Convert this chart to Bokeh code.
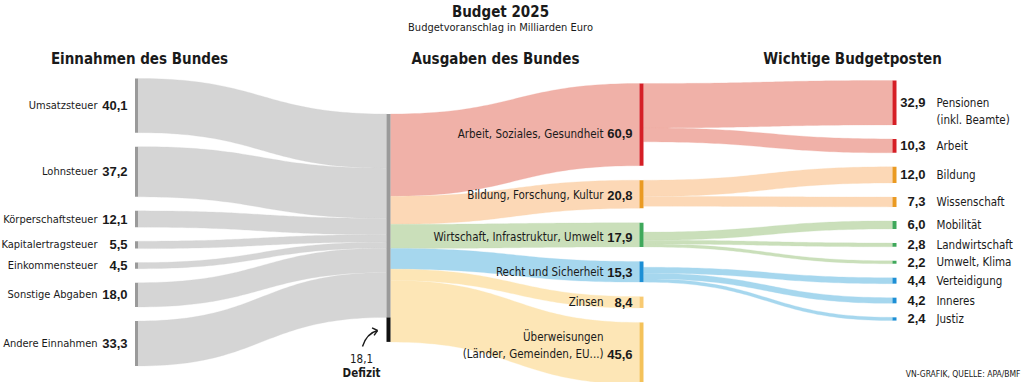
import numpy as np
from bokeh.plotting import figure
from bokeh.models import Range1d, ColumnDataSource
from bokeh.embed import file_html
from bokeh.resources import INLINE
from bokeh.core.properties import value

# ---------------- data (Mrd. Euro) ----------------
title = "Budget 2025"
subtitle = "Budgetvoranschlag in Milliarden Euro"
col_heads = ["Einnahmen des Bundes", "Ausgaben des Bundes", "Wichtige Budgetposten"]

income_labels = ["Umsatzsteuer", "Lohnsteuer", "Körperschaftsteuer", "Kapitalertragsteuer",
                 "Einkommensteuer", "Sonstige Abgaben", "Andere Einnahmen"]
income_values = [40.1, 37.2, 12.1, 5.5, 4.5, 18.0, 33.3]

deficit_label = "Defizit"
deficit_value = 18.1

spend_labels = ["Arbeit, Soziales, Gesundheit", "Bildung, Forschung, Kultur",
                "Wirtschaft, Infrastruktur, Umwelt", "Recht und Sicherheit", "Zinsen",
                "Überweisungen\n(Länder, Gemeinden, EU...)"]
spend_values = [60.9, 20.8, 17.9, 15.3, 8.4, 45.6]

item_labels = ["Pensionen\n(inkl. Beamte)", "Arbeit", "Bildung", "Wissenschaft", "Mobilität",
               "Landwirtschaft", "Umwelt, Klima", "Verteidigung", "Inneres", "Justiz"]
item_values = [32.9, 10.3, 12.0, 7.3, 6.0, 2.8, 2.2, 4.4, 4.2, 2.4]
item_parent = [0, 0, 1, 1, 2, 2, 2, 3, 3, 3]

source_note = "VN-GRAFIK, QUELLE: APA/BMF"

# ---------------- style ----------------
FONT = "DejaVu Sans Condensed"
NUMFONT = "Liberation Sans"
TXT = "#1a1a1a"
GREY_FLOW = "#d5d5d5"
GREY_BAR = "#9a9a9a"
DEF_BAR = "#111111"
bar_colors = ["#d51f26", "#ea9a22", "#3fa85b", "#1d8fd5", "#f8ca72", "#f4c25a"]
flow_colors = ["#f0b1a8", "#fcd8b6", "#cadfba", "#a6d7ee", "#fde6b6", "#fde6b6"]

K = 1.35           # px per Mrd.
X_IN = (134.5, 137.5)
X_MID = (386.0, 390.0)
X_SP = (639.0, 643.0)
X_IT = (892.0, 896.0)
LBL_L = 11         # left label font size (px)
LBL = 11.5         # other label font size (px)


def fmt(v):
    return f"{v:.1f}".replace(".", ",")


def stack(vals, top, gap):
    tops, y = [], top
    for v in vals:
        tops.append(y)
        y += v * K + gap
    return tops


def band(x0, x1, t0, b0, t1, b1, n=60):
    s = np.linspace(0, 1, n)
    xm = (x0 + x1) / 2
    bx = (1 - s) ** 3 * x0 + 3 * (1 - s) ** 2 * s * xm + 3 * (1 - s) * s ** 2 * xm + s ** 3 * x1
    def cy(a, b):
        return (1 - s) ** 3 * a + 3 * (1 - s) ** 2 * s * a + 3 * (1 - s) * s ** 2 * b + s ** 3 * b
    return list(np.concatenate([bx, bx[::-1]])), list(np.concatenate([cy(t0, t1), cy(b0, b1)[::-1]]))


inc_top = stack(income_values, 78, 14)
sp_top = stack(spend_values, 83, 14.5)
it_top = stack(item_values, 80, 14)
mid_top = 113.5
mid_income_h = sum(income_values) * K
mid_total_h = mid_income_h + deficit_value * K

p = figure(width=1024, height=382, x_range=Range1d(0, 1024), y_range=Range1d(382, 0),
           output_backend="svg", toolbar_location=None, min_border=0,
           x_axis_location=None, y_axis_location=None)
p.grid.visible = False
p.outline_line_color = None
p.background_fill_color = "white"
p.border_fill_color = "white"

# ---------------- flows ----------------
fx, fy, fc = [], [], []
cum = mid_top
for v, t in zip(income_values, inc_top):
    h = v * K
    xs, ys = band(X_IN[1], X_MID[0], t, t + h, cum, cum + h)
    fx.append(xs); fy.append(ys); fc.append(GREY_FLOW)
    cum += h

cum = mid_top
for j, (v, t) in enumerate(zip(spend_values, sp_top)):
    h = v * K
    xs, ys = band(X_MID[1], X_SP[0], cum, cum + h, t, t + h)
    fx.append(xs); fy.append(ys); fc.append(flow_colors[j])
    cum += h

align = ["top", "top", "bottom", "bottom"]
start = {}
for j in range(4):
    tot = sum(v for v, pj in zip(item_values, item_parent) if pj == j) * K
    if align[j] == "top":
        start[j] = sp_top[j]
    else:
        start[j] = sp_top[j] + spend_values[j] * K - tot
for i, (v, t) in enumerate(zip(item_values, it_top)):
    j = item_parent[i]
    h = v * K
    xs, ys = band(X_SP[1], X_IT[0], start[j], start[j] + h, t, t + h)
    fx.append(xs); fy.append(ys); fc.append(flow_colors[j])
    start[j] += h

p.patches(xs=fx, ys=fy, fill_color=fc, line_color=fc, line_width=0.3)

# ---------------- node bars ----------------
bl, br, bt, bb, bcol = [], [], [], [], []
for v, t in zip(income_values, inc_top):
    bl.append(X_IN[0]); br.append(X_IN[1]); bt.append(t); bb.append(t + v * K); bcol.append(GREY_BAR)
bl.append(X_MID[0]); br.append(X_MID[1]); bt.append(mid_top); bb.append(mid_top + mid_income_h); bcol.append(GREY_BAR)
bl.append(X_MID[0]); br.append(X_MID[1]); bt.append(mid_top + mid_income_h); bb.append(mid_top + mid_total_h); bcol.append(DEF_BAR)
for j, (v, t) in enumerate(zip(spend_values, sp_top)):
    bl.append(X_SP[0]); br.append(X_SP[1]); bt.append(t); bb.append(t + v * K); bcol.append(bar_colors[j])
for i, (v, t) in enumerate(zip(item_values, it_top)):
    bl.append(X_IT[0]); br.append(X_IT[1]); bt.append(t); bb.append(t + v * K); bcol.append(bar_colors[item_parent[i]])
p.quad(left=bl, right=br, top=bt, bottom=bb, fill_color=bcol, line_color=None)


# ---------------- texts ----------------
def texts(xs, ys, ss, size, bold=False, align="left", font=FONT, color=TXT):
    src = ColumnDataSource(dict(x=xs, y=ys, t=ss))
    p.text(x="x", y="y", text="t", source=src, text_font=value(font),
           text_font_size=value(f"{size}px"), text_font_style="bold" if bold else "normal",
           text_align=align, text_baseline="middle", text_color=color)


# title block
texts([500], [11], [title], 15, bold=True, align="center")
texts([500], [27], [subtitle], 11, align="center")
texts([139, 495, 852], [58, 58, 58], col_heads, 15, bold=True, align="center")

# income labels
inc_c = [t + v * K / 2 for v, t in zip(income_values, inc_top)]
texts([97] * len(income_labels), inc_c, income_labels, LBL_L, align="right")
texts([127] * len(income_values), inc_c, [fmt(v) for v in income_values], 13, bold=True,
      align="right", font=NUMFONT)

# spending labels
dy_sp = [9, 1, 2.5, 0.5, 0, 1]
nx, ny, ns, vy = [], [], [], []
for j, (lab, v, t) in enumerate(zip(spend_labels, spend_values, sp_top)):
    yc = t + v * K / 2 + dy_sp[j]
    vy.append(yc)
    lines = lab.split("\n")
    for k, ln in enumerate(lines):
        nx.append(603); ny.append(yc - 17 * (len(lines) - 1 - k)); ns.append(ln)
texts(nx, ny, ns, LBL, align="right")
texts([632] * len(spend_values), vy, [fmt(v) for v in spend_values], 13, bold=True,
      align="right", font=NUMFONT)

# item labels
nx, ny, ns, vy = [], [], [], []
for i, (lab, v, t) in enumerate(zip(item_labels, item_values, it_top)):
    yc = t + v * K / 2
    vy.append(yc)
    for k, ln in enumerate(lab.split("\n")):
        nx.append(936); ny.append(yc + 17 * k); ns.append(ln)
texts(nx, ny, ns, LBL, align="left")
texts([925] * len(item_values), vy, [fmt(v) for v in item_values], 13, bold=True,
      align="right", font=NUMFONT)

# deficit annotation
texts([361], [358], [fmt(deficit_value)], LBL, align="center")
texts([361], [372], [deficit_label], LBL, bold=True, align="center")
ax0, ay0, acx, acy, ax1, ay1 = 362, 346, 366, 333, 377, 330
p.quadratic(x0=[ax0], y0=[ay0], x1=[ax1], y1=[ay1], cx=[acx], cy=[acy], line_color=TXT, line_width=1.4)
d = np.array([ax1 - acx, ay1 - acy], dtype=float)
d /= np.linalg.norm(d)
hx, hy = [], []
for ang in (np.radians(40), -np.radians(40)):
    r = np.array([[np.cos(ang), -np.sin(ang)], [np.sin(ang), np.cos(ang)]]) @ (-d)
    hx.append([ax1, ax1 + 6 * r[0]]); hy.append([ay1, ay1 + 6 * r[1]])
p.multi_line(xs=hx, ys=hy, line_color=TXT, line_width=1.4)

# source
texts([1020], [373], [source_note], 8.5, align="right")

open("out.html", "w").write(file_html(p, INLINE))
